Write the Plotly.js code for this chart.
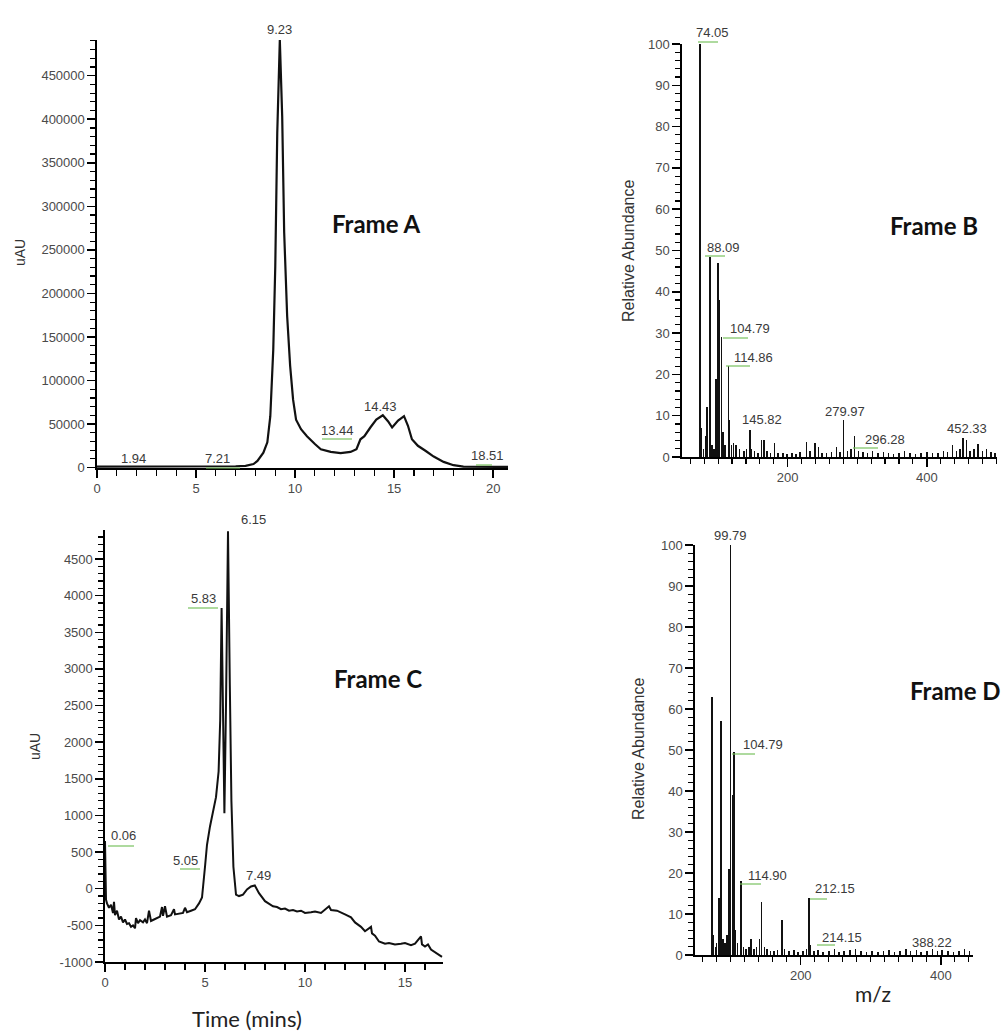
<!DOCTYPE html>
<html><head><meta charset="utf-8">
<script src="https://cdn.plot.ly/plotly-3.0.1.min.js"></script>
<style>html,body{margin:0;padding:0;background:#fff}#chart{width:1005px;height:1034px}</style>
</head><body><div id="chart"></div><script>
// ---------- DATA ----------
// Frame A: chromatogram (time in min, uAU)
const timeA = [0, 1, 2, 3, 4, 5, 6, 7, 7.5, 7.9, 8.1, 8.4, 8.6, 8.75, 8.9, 9.0, 9.1, 9.23, 9.35, 9.45, 9.6, 9.75, 9.9, 10.05, 10.3, 10.6, 11.0, 11.3, 11.8, 12.3, 12.8, 13.1, 13.3, 13.5, 13.8, 14.1, 14.43, 14.7, 14.9, 15.2, 15.5, 15.7, 15.9, 16.2, 16.6, 17.0, 17.5, 18.0, 18.5, 19.0, 20.0, 20.75];
const uauA = [1000, 1000, 1200, 1000, 1100, 1200, 1300, 1500, 2000, 4000, 7600, 17000, 29000, 59000, 136000, 231000, 384000, 491000, 403000, 270000, 174000, 117000, 78000, 55000, 44000, 36000, 27000, 21000, 18000, 16500, 18000, 21000, 32500, 36000, 46000, 55000, 60000, 53000, 46000, 54000, 59000, 48000, 32500, 25000, 19000, 12600, 6500, 2700, 1000, 800, 700, 700];
const peakTextA = ['9.23', '1.94', '7.21', '13.44', '14.43', '18.51'];

// Frame B: mass spectrum (m/z, relative abundance)
const mzB = [74.05, 76, 79, 82, 84, 88.09, 91, 94, 97, 99.5, 101, 104.79, 107, 110, 114.86, 116, 119, 122, 126, 131, 137, 141, 145.82, 148, 152, 157, 162, 166, 170, 175, 181, 186, 193, 199, 206, 212, 218, 227, 232, 239, 244, 249, 256, 263, 270, 275, 279.97, 286, 291, 296.28, 302, 308, 315, 322, 330, 338, 345, 352, 360, 368, 376, 384, 392, 400, 408, 416, 424, 430, 437, 443, 448, 452.33, 457, 462, 468, 474, 480, 486, 492, 498];
const abB = [100, 7, 2, 5, 12, 48.5, 3, 2, 19, 47, 38, 29, 6, 3, 22, 9, 3, 3.5, 3, 2, 1.5, 2, 6.5, 2, 1.5, 1, 4.2, 4, 1.5, 1, 3.5, 1, 1, 0.8, 1, 0.8, 1.2, 3.7, 1.5, 3.3, 2.5, 1, 1, 1.2, 2.5, 1.2, 8.9, 1.5, 2, 5, 1.5, 1.2, 1, 1.5, 1, 1.2, 1, 0.8, 1, 1.5, 1, 0.8, 1, 1.2, 1, 1, 1.5, 1.2, 2.8, 1.5, 2, 4.5, 4, 1.5, 2, 3.2, 1.5, 2, 1.2, 1];
const peakTextB = ['74.05', '88.09', '104.79', '114.86', '145.82', '279.97', '296.28', '452.33'];

// Frame C: chromatogram (time in min, uAU)
const timeC = [0, 0.05, 0.1, 0.2, 0.3, 0.4, 0.45, 0.5, 0.6, 0.7, 0.8, 0.9, 1.0, 1.1, 1.2, 1.3, 1.4, 1.5, 1.55, 1.65, 1.75, 1.9, 2.0, 2.1, 2.2, 2.3, 2.45, 2.6, 2.75, 2.85, 2.9, 3.0, 3.1, 3.3, 3.45, 3.5, 3.7, 3.9, 4.0, 4.1, 4.3, 4.5, 4.7, 4.85, 5.0, 5.1, 5.25, 5.4, 5.55, 5.68, 5.76, 5.83, 5.9, 5.97, 6.05, 6.15, 6.24, 6.32, 6.42, 6.55, 6.7, 6.9, 7.1, 7.3, 7.49, 7.7, 8.0, 8.2, 8.4, 8.6, 8.8, 9.0, 9.2, 9.4, 9.6, 9.8, 10.0, 10.3, 10.5, 10.8, 11.0, 11.2, 11.3, 11.6, 12.0, 12.3, 12.5, 12.8, 13.0, 13.3, 13.35, 13.5, 13.7, 14.0, 14.2, 14.5, 14.8, 15.0, 15.3, 15.5, 15.8, 15.85, 16.0, 16.15, 16.3, 16.6, 16.85];
const uauC = [650, -150, -200, -260, -220, -330, -180, -360, -300, -420, -380, -460, -420, -480, -470, -520, -500, -540, -400, -470, -430, -460, -420, -470, -300, -440, -420, -400, -380, -250, -370, -240, -380, -360, -280, -350, -340, -330, -260, -320, -300, -280, -200, -120, 300, 600, 850, 1050, 1250, 1600, 2300, 3830, 2700, 1030, 2500, 4880, 2800, 1200, 300, -80, -100, -80, -10, 30, 45, -60, -170, -200, -240, -250, -280, -270, -300, -290, -310, -300, -330, -320, -310, -330, -290, -240, -290, -300, -350, -390, -460, -520, -580, -520, -610, -640, -720, -750, -740, -760, -750, -740, -770, -750, -650, -760, -790, -760, -830, -880, -930];
const peakTextC = ['6.15', '5.83', '0.06', '5.05', '7.49'];
const yTicksC = [-1000, -500, 0, 500, 1000, 1500, 2000, 2500, 3000, 3500, 4000, 4500];

// Frame D: mass spectrum (m/z, relative abundance)
const mzD = [73, 75, 78, 80, 83, 86, 89, 92, 95, 97.5, 99.79, 102.5, 104.79, 107, 110, 114.9, 118, 122, 126, 129, 133, 137, 141, 144, 148, 152, 157, 162, 167, 173, 177, 183, 190, 196, 203, 208, 212.15, 214.15, 219, 225, 232, 240, 248, 255, 262, 270, 278, 286, 294, 302, 310, 318, 326, 334, 342, 350, 357, 365, 372, 380, 388.22, 395, 402, 410, 418, 426, 434, 441];
const abD = [63, 5, 2, 3, 14, 57, 4, 3, 5, 21, 100, 39, 49.6, 6, 3, 18, 2, 1.5, 2, 4, 1.5, 2, 4, 13, 2, 1.5, 1, 1, 1.2, 8.5, 1.5, 1, 1.2, 0.8, 1, 1.5, 14, 2.5, 1, 1.2, 0.8, 1, 1.5, 0.8, 1, 1.2, 1.5, 1, 0.8, 1, 0.8, 1, 1.2, 0.8, 1, 1.5, 1, 1.2, 0.8, 1, 1.5, 1, 1.2, 1, 0.8, 1, 1.5, 1];
const peakTextD = ['99.79', '104.79', '114.90', '212.15', '214.15', '388.22'];

const frameNames = ['Frame A', 'Frame B', 'Frame C', 'Frame D'];

// ---------- LAYOUT HELPERS ----------
const W = 1005, H = 1034;
const fx = p => p / W;
const fy = p => 1 - p / H;

const tickFont = {family: 'Liberation Sans, Arial, sans-serif', size: 13, color: '#4a4a4a'};
function axisBase(extra) {
  return Object.assign({
    showline: true, linecolor: '#000', linewidth: 1.6,
    ticks: 'outside', ticklen: 8, tickwidth: 1.5, tickcolor: '#000',
    showgrid: false, zeroline: false, tickfont: tickFont, fixedrange: true
  }, extra);
}
function minor(dt, len) { return {ticks: 'outside', dtick: dt, ticklen: len || 5, tickwidth: 1.2, tickcolor: '#000', showgrid: false}; }

const traces = [
  {type: 'scatter', mode: 'lines', x: timeA, y: uauA, xaxis: 'x', yaxis: 'y', line: {color: '#111', width: 2.2}, hoverinfo: 'skip'},
  {type: 'bar', x: mzB, y: abB, xaxis: 'x2', yaxis: 'y2', width: 2.2, marker: {color: '#111', line: {width: 0}}, hoverinfo: 'skip'},
  {type: 'scatter', mode: 'lines', x: timeC, y: uauC, xaxis: 'x3', yaxis: 'y3', line: {color: '#111', width: 2}, hoverinfo: 'skip'},
  {type: 'bar', x: mzD, y: abD, xaxis: 'x4', yaxis: 'y4', width: 2.2, marker: {color: '#111', line: {width: 0}}, hoverinfo: 'skip'}
];

// label pixel positions (layout only)
const labelPos = {
  A: [[279, 29], [133, 459], [217, 459], [337, 430], [380, 407], [487, 455]],
  B: [[712, 33], [723, 247], [750, 328], [753, 357], [762, 419], [845, 411], [885, 440], [967, 428]],
  C: [[253, 519], [203, 598], [123, 835], [185, 860], [258, 875]],
  D: [[730, 535], [763, 744], [767, 875], [835, 888], [842, 937], [932, 942]]
};
const underlines = [
  [206, 240, 468], [322, 352, 439], [476, 492, 465],
  [698, 718, 42], [705, 725, 256], [723, 748, 338], [726, 750, 366], [853, 878, 448],
  [188, 218, 608], [108, 134, 846], [180, 200, 869],
  [732, 755, 754], [740, 761, 884], [810, 827, 899], [817, 835, 945]
];

const annotations = [];
function addLabels(texts, pos) {
  texts.forEach((t, i) => annotations.push({
    text: t, xref: 'paper', yref: 'paper', x: fx(pos[i][0]), y: fy(pos[i][1]),
    xanchor: 'center', yanchor: 'middle', showarrow: false,
    font: {family: 'Liberation Sans, Arial, sans-serif', size: 13, color: '#3a3a3a'}
  }));
}
addLabels(peakTextA, labelPos.A);
addLabels(peakTextB, labelPos.B);
addLabels(peakTextC, labelPos.C);
addLabels(peakTextD, labelPos.D);

const framePos = [[376, 224], [934, 225], [378, 678], [955, 690]];
frameNames.forEach((t, i) => annotations.push({
  text: '<b>' + t + '</b>', xref: 'paper', yref: 'paper', x: fx(framePos[i][0]), y: fy(framePos[i][1]),
  xanchor: 'center', yanchor: 'middle', showarrow: false,
  font: {family: 'Lato, Open Sans, sans-serif', size: 24, color: '#111'}
}));

function axTitle(t, x, y, size, rot, fam, col) {
  annotations.push({text: t, xref: 'paper', yref: 'paper', x: fx(x), y: fy(y), xanchor: 'center', yanchor: 'middle',
    showarrow: false, textangle: rot, font: {family: fam || 'Liberation Sans, Arial, sans-serif', size: size, color: col || '#333'}});
}
axTitle('uAU', 20, 253, 14, -90);
axTitle('uAU', 35, 747, 14, -90);
axTitle('Relative Abundance', 628, 251, 16, -90);
axTitle('Relative Abundance', 638, 749, 16, -90);
axTitle('Time (mins)', 247, 1018, 22, 0, 'Lato, Open Sans, sans-serif', '#222');
axTitle('m/z', 873, 993, 21, 0, 'Lato, Open Sans, sans-serif', '#222');

const shapes = underlines.map(u => ({type: 'line', xref: 'paper', yref: 'paper',
  x0: fx(u[0]), x1: fx(u[1]), y0: fy(u[2]), y1: fy(u[2]), line: {color: '#78c25e', width: 1.2}}));

const layout = {
  width: W, height: H, margin: {l: 0, r: 0, t: 0, b: 0}, showlegend: false,
  paper_bgcolor: '#fff', plot_bgcolor: 'rgba(0,0,0,0)', bargap: 0,
  xaxis: axisBase({domain: [fx(97), fx(508)], range: [0, 20.75], anchor: 'y', dtick: 5, tick0: 0, minor: minor(1, 6)}),
  yaxis: axisBase({domain: [fy(468), fy(40)], range: [-500, 491000], anchor: 'x', dtick: 50000, tick0: 0, tickformat: 'd', minor: minor(10000)}),
  xaxis2: axisBase({domain: [fx(682), fx(997)], range: [48, 501], anchor: 'y2', dtick: 200, tick0: 0, minor: minor(20)}),
  yaxis2: axisBase({domain: [fy(457), fy(44)], range: [0, 100], anchor: 'x2', dtick: 10, tick0: 0, minor: minor(2)}),
  xaxis3: axisBase({domain: [fx(105), fx(443)], range: [0, 16.9], anchor: 'y3', dtick: 5, tick0: 0, minor: minor(1, 6)}),
  yaxis3: axisBase({domain: [fy(962), fy(530)], range: [-1000, 4896], anchor: 'x3', tickmode: 'array', tickvals: yTicksC, ticktext: yTicksC.map(String), minor: minor(100)}),
  xaxis4: axisBase({domain: [fx(695), fx(973)], range: [49, 446], anchor: 'y4', dtick: 200, tick0: 0, minor: minor(20)}),
  yaxis4: axisBase({domain: [fy(955), fy(545)], range: [0, 100], anchor: 'x4', dtick: 10, tick0: 0, minor: minor(2)}),
  annotations: annotations, shapes: shapes
};

Plotly.newPlot('chart', traces, layout, {staticPlot: true, displayModeBar: false});
</script></body></html>
